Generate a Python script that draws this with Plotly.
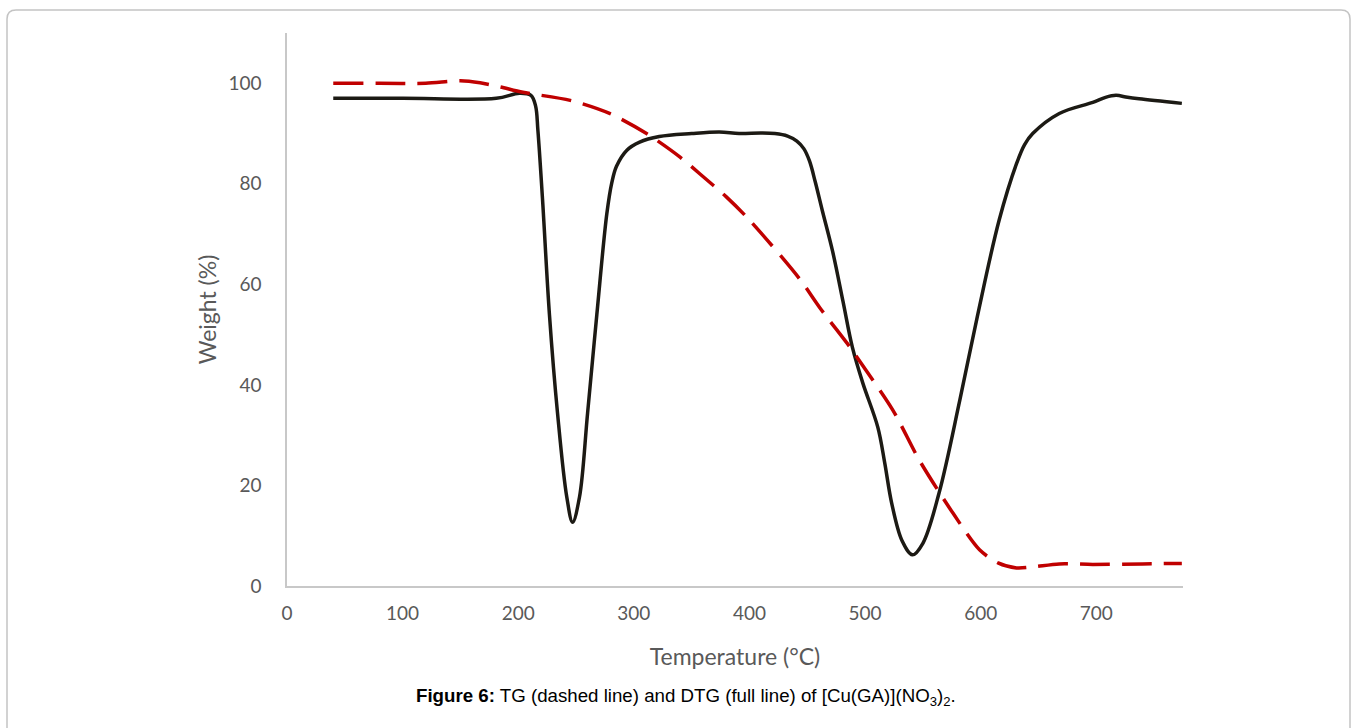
import plotly.graph_objects as go

# TG (dashed red)
tg_x = [40, 80, 120, 150, 167, 184, 204, 245, 279, 311, 340, 357, 380, 400, 443, 461, 487, 493, 524, 547, 576, 599, 615, 631, 645, 668, 697, 740, 774]
tg_y = [100, 100, 100, 100.5, 100.1, 99.3, 98.2, 96.6, 94.0, 90.0, 85.3, 82.0, 77.4, 72.8, 61.2, 55.3, 47.5, 45.5, 35.0, 25.0, 14.5, 7.2, 4.6, 3.6, 3.8, 4.4, 4.3, 4.4, 4.5]

# DTG (solid black)
dtg_x = [40, 100, 181, 201, 211, 215, 217, 221, 227, 234, 242, 247, 253, 260, 268, 276.6, 281, 285, 294, 305, 322, 350, 374, 391, 410, 422, 433, 441, 447, 452, 457, 463, 472, 481, 489, 498, 511, 517, 523, 532, 541, 550, 564, 582, 597, 616, 631, 638, 645, 668, 697, 708, 717, 727, 737, 774]
dtg_y = [97, 97, 97, 98, 97.6, 95.5, 90.7, 77, 54, 34.4, 17.7, 12.7, 17.7, 34.4, 54, 74, 80.3, 83.5, 86.7, 88.3, 89.4, 90.0, 90.3, 90.0, 90.1, 90.0, 89.5, 88.5, 87.0, 84.5, 80.3, 74.7, 66.5, 56.5, 47.5, 40.4, 31.6, 24.5, 16.5, 9.0, 6.2, 8.5, 18.5, 37.0, 53.5, 72.8, 84.0, 87.8, 90.0, 94.0, 96.2, 97.2, 97.6, 97.2, 96.9, 96.0]

x_ticks = [0, 100, 200, 300, 400, 500, 600, 700]
y_ticks = [0, 20, 40, 60, 80, 100]

fig = go.Figure()
fig.add_trace(go.Scatter(x=dtg_x, y=dtg_y, mode="lines",
                         line=dict(color="#1c1a14", width=3.5, shape="spline", smoothing=1.0),
                         showlegend=False, name="DTG"))
fig.add_trace(go.Scatter(x=tg_x, y=tg_y, mode="lines",
                         line=dict(color="#c00000", width=3.5, shape="spline", smoothing=0.8,
                                   dash="30px,12px"),
                         showlegend=False, name="TG"))

L, R, T, B = 287, 174, 33, 142
W, H = 1357, 728
pw, ph = W - L - R, H - T - B

def px(x):
    return (x - L) / pw

def py(y):
    return (H - B - y) / ph

# rounded border
x0, x1, y0, y1, r = 7, 1350, 10, 740, 9
path = (f"M {px(x0 + r)},{py(y0)} L {px(x1 - r)},{py(y0)} Q {px(x1)},{py(y0)} {px(x1)},{py(y0 + r)} "
        f"L {px(x1)},{py(y1)} M {px(x0)},{py(y1)} L {px(x0)},{py(y0 + r)} Q {px(x0)},{py(y0)} {px(x0 + r)},{py(y0)}")
fig.add_shape(type="path", path=path, xref="paper", yref="paper",
              line=dict(color="#c4c4c4", width=1.5))

fig.add_annotation(x=px(686), y=py(711), xref="paper", yref="paper", showarrow=False,
                   text="<b>Figure 6:</b> TG (dashed line) and DTG (full line) of [Cu(GA)](NO<sub>3</sub>)<sub>2</sub>.",
                   font=dict(family="Liberation Sans, Arial", size=18.7, color="#000000"))

axis_font = dict(family="Lato, Open Sans", size=19, color="#595959")
title_font = dict(family="Lato, Open Sans", size=23, color="#595959")
fig.update_xaxes(range=[0, 775], tickvals=x_ticks, showgrid=False, zeroline=False,
                 showline=True, linecolor="#c8c8c8", linewidth=1.5, ticks="",
                 tickfont=axis_font, ticklabelstandoff=9,
                 title=dict(text="Temperature (°C)", font=title_font, standoff=26))
fig.update_yaxes(range=[0, 110], tickvals=y_ticks, showgrid=False, zeroline=False,
                 showline=True, linecolor="#c8c8c8", linewidth=1.5, ticks="",
                 tickfont=axis_font, ticklabelstandoff=20,
                 title=dict(text="Weight (%)", font=title_font, standoff=5))
fig.update_layout(width=W, height=H, margin=dict(l=L, r=R, t=T, b=B),
                  plot_bgcolor="white", paper_bgcolor="white")

fig.write_html("out.html")
